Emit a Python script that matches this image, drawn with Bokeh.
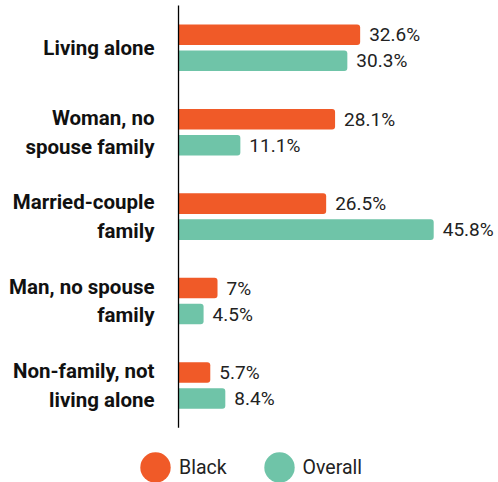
from bokeh.plotting import figure
from bokeh.models import ColumnDataSource, Range1d, Legend, LegendItem
from bokeh.transform import dodge
from bokeh.core.properties import value
from bokeh.embed import file_html
from bokeh.resources import INLINE

categories = ["Living alone", "Woman, no\nspouse family", "Married-couple\nfamily",
              "Man, no spouse\nfamily", "Non-family, not\nliving alone"]
black = [32.6, 28.1, 26.5, 7.0, 5.7]
overall = [30.3, 11.1, 45.8, 4.5, 8.4]
series_names = ["Black", "Overall"]

BLACK_C = "#F05A28"
OVERALL_C = "#6FC4A8"
TEXT_C = "#222222"

idx = list(range(len(categories)))
src = ColumnDataSource(dict(
    idx=idx, cat=categories, black=black, overall=overall,
    black_lbl=[f"{v:g}%" for v in black],
    overall_lbl=[f"{v:g}%" for v in overall],
))

p = figure(width=498, height=482, output_backend="svg", toolbar_location=None,
           x_range=Range1d(-31.95, 57.43), y_range=Range1d(5.148, -0.559),
           min_border=0, outline_line_color=None)
p.axis.visible = False
p.grid.visible = False
p.background_fill_color = None
p.border_fill_color = None

bh = 0.243
off = 0.154
p.hbar(y=dodge("idx", -off), right="black", left=0, height=bh, source=src,
       fill_color=BLACK_C, line_color=None, border_radius=(0, 3, 3, 0))
p.hbar(y=dodge("idx", off), right="overall", left=0, height=bh, source=src,
       fill_color=OVERALL_C, line_color=None, border_radius=(0, 3, 3, 0))

# axis line
p.segment(x0=[0], y0=[-0.5], x1=[0], y1=[len(categories) - 0.5],
          line_color="#000000", line_width=1.3)

p.text(x="black", y=dodge("idx", -off), text="black_lbl", source=src,
       x_offset=9, text_align="left", text_baseline="middle",
       text_font=value("Roboto"), text_font_size="19px", text_color=TEXT_C)
p.text(x="overall", y=dodge("idx", off), text="overall_lbl", source=src,
       x_offset=9, text_align="left", text_baseline="middle",
       text_font=value("Roboto"), text_font_size="19px", text_color=TEXT_C)

p.text(x=0, y="idx", text="cat", source=src, x_offset=-24,
       text_align="right", text_baseline="middle", text_font=value("Roboto"),
       text_font_style="bold", text_font_size="20.5px", text_color="#111111",
       text_line_height=1.2)

nan_src = ColumnDataSource(dict(x=[float("nan")], y=[float("nan")]))
r_b = p.ellipse(x="x", y="y", width=30, height=30, width_units="screen",
                height_units="screen", source=nan_src, fill_color=BLACK_C, line_color=None)
r_o = p.ellipse(x="x", y="y", width=30, height=30, width_units="screen",
                height_units="screen", source=nan_src, fill_color=OVERALL_C, line_color=None)

legend = Legend(items=[LegendItem(label=series_names[0], renderers=[r_b]),
                       LegendItem(label=series_names[1], renderers=[r_o])],
                orientation="horizontal", location=(136, -4),
                glyph_width=38, glyph_height=38, label_standoff=5, spacing=33,
                padding=0, margin=0, border_line_color=None, background_fill_alpha=0,
                label_text_font="Roboto", label_text_font_size="19.5px",
                label_text_color=TEXT_C)
p.add_layout(legend, "center")

open("out.html", "w").write(file_html(p, INLINE))
